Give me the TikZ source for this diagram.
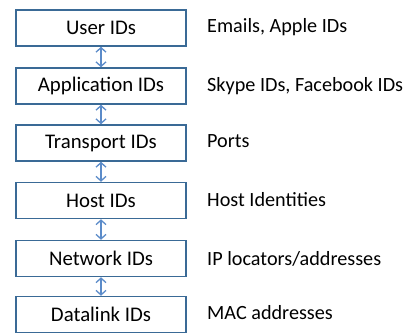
\documentclass[tikz,border=0pt]{standalone}
\usepackage{fontspec}
\setmainfont{Carlito}
\usetikzlibrary{arrows.meta}
\definecolor{boxline}{HTML}{3A6A96}
\definecolor{arr}{HTML}{5B8BC9}
\begin{document}
\begin{tikzpicture}[x=1pt,y=-1pt,
  idbox/.style={draw=boxline,line width=1.5pt,minimum width=170pt,minimum height=36pt,inner sep=0pt,font=\fontsize{20.8}{22}\selectfont,text=black},
  lbl/.style={anchor=west,inner sep=0pt,font=\fontsize{20.2}{22}\selectfont,text=black},
  link/.style={draw=arr,line width=1.3pt,{Straight Barb[length=4.5pt,width=10pt]}-{Straight Barb[length=4.5pt,width=10pt]}}]
\useasboundingbox (0,0) rectangle (406,333);
\node[idbox] (u) at (101,28) {User IDs};
\node[idbox] (a) at (101,86) {Application IDs};
\node[idbox] (t) at (101,143) {Transport IDs};
\node[idbox] (h) at (101,200.5) {Host IDs};
\node[idbox] (n) at (101,258.5) {Network IDs};
\node[idbox] (d) at (101,314.5) {Datalink IDs};
\node[lbl] (lu) at (207,27) {Emails, Apple IDs};
\node[lbl] (la) at (207,86) {Skype IDs, Facebook IDs};
\node[lbl] (lt) at (207,141) {Ports};
\node[lbl] (lh) at (207,200) {Host Identities};
\node[lbl] (ln) at (207,259) {IP locators/addresses};
\node[lbl] (ld) at (207,313) {MAC addresses};
\draw[link] (u.south) -- (a.north);
\draw[link] (a.south) -- (t.north);
\draw[link] (t.south) -- (h.north);
\draw[link] (h.south) -- (n.north);
\draw[link] (n.south) -- (d.north);
\end{tikzpicture}
\end{document}
